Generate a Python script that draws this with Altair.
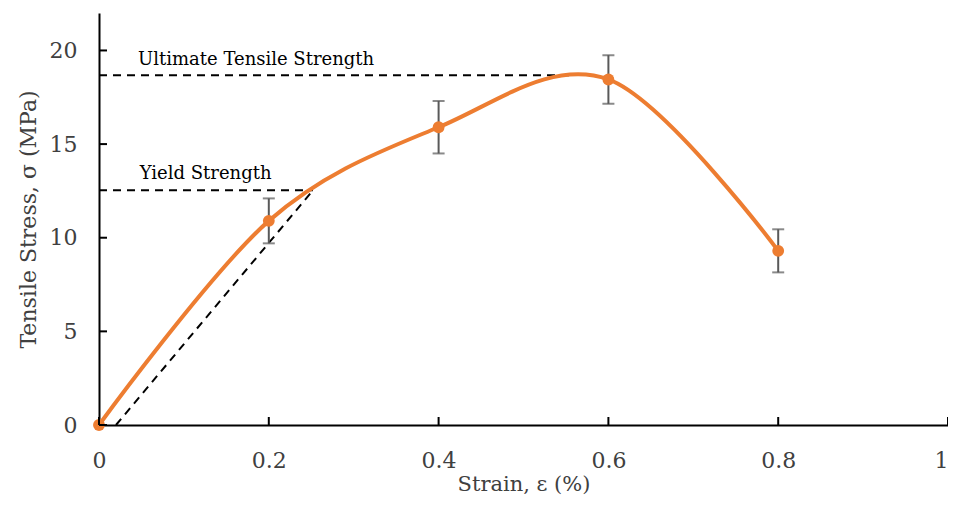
import altair as alt
import pandas as pd

# ---- data ----
strain = [0.0, 0.2, 0.4, 0.6, 0.8]
stress = [0.0, 10.9, 15.9, 18.45, 9.3]
err = [0.0, 1.2, 1.4, 1.3, 1.15]

uts_value = 18.67
uts_end = 0.557
yield_value = 12.53
yield_end = 0.252
offset_start = 0.02

ann_text = ["Ultimate Tensile Strength", "Yield Strength"]
ann_x = [0.046, 0.048]
ann_y = [19.25, 13.15]

x_ticks = [0, 0.2, 0.4, 0.6, 0.8, 1]
y_ticks = [0, 5, 10, 15, 20]

ORANGE = "#ED7D31"
FONT = "DejaVu Serif"

pts = pd.DataFrame({"strain": strain, "stress": stress, "err": err})
pts["lo"] = pts["stress"] - pts["err"]
pts["hi"] = pts["stress"] + pts["err"]
ebars = pts[pts["err"] > 0]

guides = pd.DataFrame({
    "x": [0, uts_end, 0, yield_end, offset_start, yield_end],
    "y": [uts_value, uts_value, yield_value, yield_value, 0, yield_value],
    "g": ["uts", "uts", "yield", "yield", "offset", "offset"],
})
ann = pd.DataFrame({"t": ann_text, "x": ann_x, "y": ann_y})
xt = pd.DataFrame({"v": x_ticks})
yt = pd.DataFrame({"v": y_ticks})

xs = alt.Scale(domain=[0, 1], nice=False)
ys = alt.Scale(domain=[0, 22], nice=False)

xaxis = alt.Axis(
    values=x_ticks, format="~g", ticks=False, tickSize=0, grid=False,
    labelFlush=False, labelPadding=25,
    labelAlign={"condition": {"test": "datum.value == 1", "value": "right"}, "value": "center"},
    title="Strain, ε (%)", titleFontSize=21, titleBaseline="alphabetic", titleY=65,
)
yaxis = alt.Axis(values=y_ticks, ticks=False, tickSize=0, grid=False,
                 labelFlush=False, labelPadding=22, title="Tensile Stress, σ (MPa)", titlePadding=9)

base = alt.Chart(pts)

line = base.mark_line(color=ORANGE, strokeWidth=4, interpolate="cardinal").encode(
    x=alt.X("strain:Q", scale=xs, axis=xaxis),
    y=alt.Y("stress:Q", scale=ys, axis=yaxis),
)

dash = alt.Chart(guides).mark_line(color="black", strokeWidth=2, strokeDash=[8, 6]).encode(
    x=alt.X("x:Q", scale=xs),
    y=alt.Y("y:Q", scale=ys),
    detail="g:N",
)

erule = alt.Chart(ebars).mark_rule(color="#595959", strokeWidth=2).encode(
    x=alt.X("strain:Q", scale=xs),
    y=alt.Y("lo:Q", scale=ys),
    y2="hi:Q",
)
cap_lo = alt.Chart(ebars).mark_tick(color="#595959", thickness=2, size=12, orient="horizontal").encode(
    x=alt.X("strain:Q", scale=xs),
    y=alt.Y("lo:Q", scale=ys),
)
cap_hi = alt.Chart(ebars).mark_tick(color="#595959", thickness=2, size=12, orient="horizontal").encode(
    x=alt.X("strain:Q", scale=xs),
    y=alt.Y("hi:Q", scale=ys),
)

points = base.mark_circle(color=ORANGE, size=140, opacity=1).encode(
    x=alt.X("strain:Q", scale=xs),
    y=alt.Y("stress:Q", scale=ys),
)

labels = alt.Chart(ann).mark_text(font=FONT, fontSize=18, align="left", baseline="alphabetic",
                                   color="black").encode(
    x=alt.X("x:Q", scale=xs),
    y=alt.Y("y:Q", scale=ys),
    text="t:N",
)

xtick = alt.Chart(xt).mark_rule(color="black", strokeWidth=2).encode(
    x=alt.X("v:Q", scale=xs),
    y=alt.value(412),
    y2=alt.value(404),
)
ytick = alt.Chart(yt).mark_rule(color="black", strokeWidth=2).encode(
    y=alt.Y("v:Q", scale=ys),
    x=alt.value(0),
    x2=alt.value(8),
)

chart = alt.layer(dash, erule, cap_lo, cap_hi, line, points, labels, xtick, ytick).properties(
    width=849,
    height=412,
    autosize=alt.AutoSizeParams(type="none"),
    padding={"left": 91, "top": 5, "right": 0, "bottom": 72},
).configure_view(stroke=None).configure_axis(
    domainColor="black",
    domainWidth=2,
    labelFont=FONT,
    labelFontSize=22,
    labelColor="#404040",
    titleFont=FONT,
    titleFontSize=22,
    titleFontWeight="normal",
    titleColor="#404040",
)

chart.save("out.html", embed_options={"renderer": "svg", "actions": False})
